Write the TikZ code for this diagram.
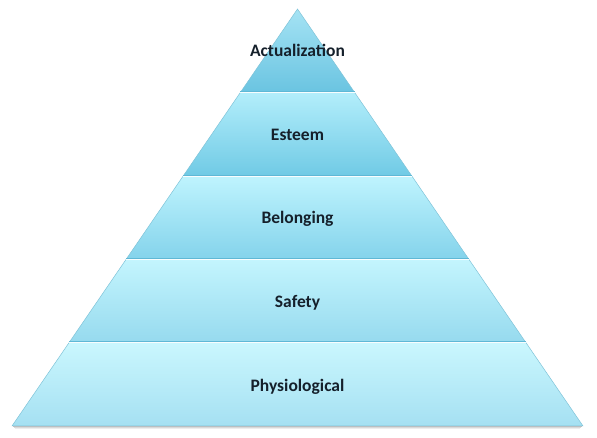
\documentclass[tikz,border=0pt]{standalone}
\usepackage{fontspec}
\setmainfont{Carlito}
\definecolor{aT}{HTML}{A5E3F4}\definecolor{aB}{HTML}{6AC4E1}
\definecolor{eT}{HTML}{B3EEFB}\definecolor{eB}{HTML}{70CAE5}
\definecolor{bT}{HTML}{BFF4FE}\definecolor{bB}{HTML}{84D3EB}
\definecolor{sT}{HTML}{C4F5FE}\definecolor{sB}{HTML}{96DAEE}
\definecolor{pT}{HTML}{CAF7FE}\definecolor{pB}{HTML}{A5E0F2}
\definecolor{edge}{HTML}{7FC3D8}
\definecolor{sepc}{HTML}{5FB8D6}
\definecolor{txt}{HTML}{15202B}
\begin{document}
\begin{tikzpicture}[x=1pt,y=1pt,
  lbl/.style={font=\bfseries\fontsize{17.5}{20}\selectfont,text=txt}]
\useasboundingbox (0,0) rectangle (597,438);
% soft shadow under base
\foreach \o/\a in {1/0.25,2/0.15,3/0.07}{
  \draw[black,opacity=\a,line width=1pt] (12+\o,12-\o) -- (583-\o,12-\o);
}
% coordinates
\coordinate (A) at (297.5,429);
\coordinate (L1) at (240.4,345.6); \coordinate (R1) at (354.6,345.6);
\coordinate (L2) at (183.3,262.2); \coordinate (R2) at (411.7,262.2);
\coordinate (L3) at (126.2,178.8); \coordinate (R3) at (468.8,178.8);
\coordinate (L4) at (69.1,95.4);   \coordinate (R4) at (525.9,95.4);
\coordinate (L5) at (12,12);       \coordinate (R5) at (583,12);
% levels
\shade[top color=aT, bottom color=aB] (A) -- (R1) -- (L1) -- cycle;
\shade[top color=eT, bottom color=eB] (L1) -- (R1) -- (R2) -- (L2) -- cycle;
\shade[top color=bT, bottom color=bB] (L2) -- (R2) -- (R3) -- (L3) -- cycle;
\shade[top color=sT, bottom color=sB] (L3) -- (R3) -- (R4) -- (L4) -- cycle;
\shade[top color=pT, bottom color=pB] (L4) -- (R4) -- (R5) -- (L5) -- cycle;
% outline
\draw[edge,line width=0.5pt] (A) -- (L5) -- (R5) -- cycle;
% separators
\foreach \i in {1,2,3,4}{
  \draw[sepc,line width=0.8pt] ([yshift=0.8pt]L\i) -- ([yshift=0.8pt]R\i);
  \draw[white,opacity=0.9,line width=1pt] ([yshift=-0.4pt]L\i) -- ([yshift=-0.4pt]R\i);
}
% labels
\node[lbl] (t1) at (297.5,387.5) {Actualization};
\node[lbl] (t2) at (297.5,303) {Esteem};
\node[lbl] (t3) at (297.5,219) {Belonging};
\node[lbl] (t4) at (297.5,135.5) {Safety};
\node[lbl] (t5) at (297.5,51.5) {Physiological};
\end{tikzpicture}
\end{document}
